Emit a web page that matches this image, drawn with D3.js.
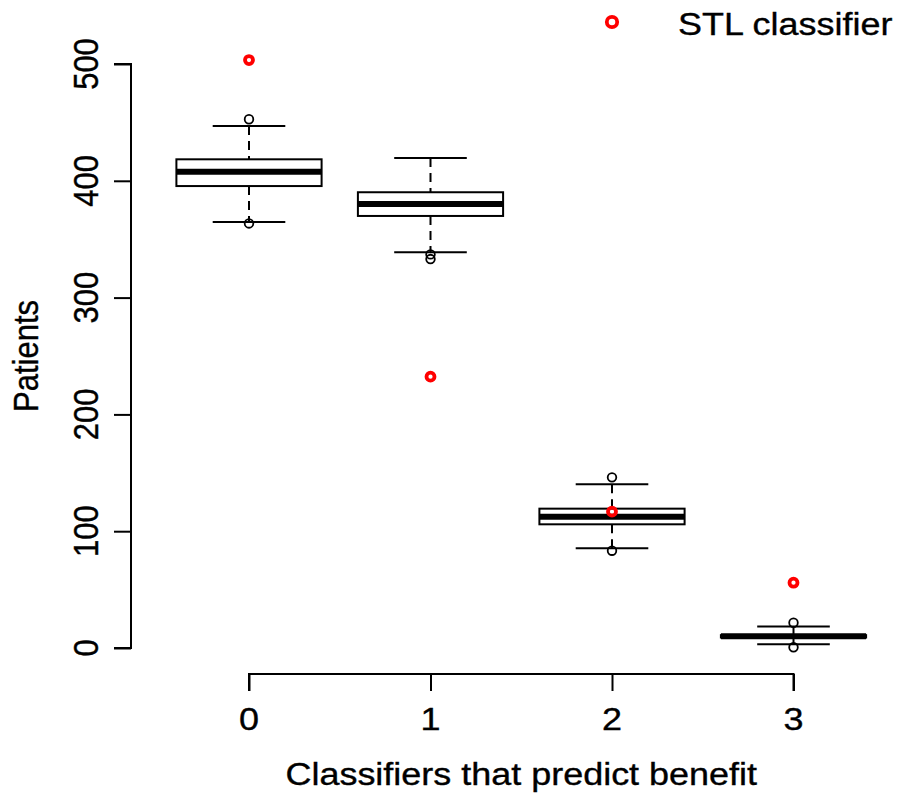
<!DOCTYPE html>
<html>
<head>
<meta charset="utf-8">
<script src="https://cdn.jsdelivr.net/npm/d3@7"></script>
<style>
  html, body { margin: 0; padding: 0; background: #fff; }
  svg { display: block; }
  text { font-family: "Liberation Sans", Arial, sans-serif; fill: #000; stroke: #000; stroke-width: 0.35px; }
</style>
</head>
<body>
<svg id="chart" width="898" height="796"></svg>
<script>
// Number of classifiers predicting benefit (groups)
const categories = ["0", "1", "2", "3"];
// Box-plot summary per group
const lowerWhisker = [364.7, 338.8, 85.4, 3.2];
const q1 = [395.5, 369.9, 105.9, 9.0];
const median = [407.8, 380.1, 112.4, 10.0];
const q3 = [418.4, 390.2, 119.3, 11.0];
const upperWhisker = [446.9, 419.5, 140.2, 18.5];
const outliers = [[452.7, 363.5], [337.0, 333.0], [146.1, 83.3], [21.6, 0.6]];
// STL classifier patient counts
const stlValues = [503.4, 232.3, 116.7, 55.9];
// Axis ticks
const yTicks = [0, 100, 200, 300, 400, 500];

const sx = 1.16; // horizontal text stretch
const fs = 31;
const svg = d3.select("#chart");

const x = d3.scaleLinear().domain([0, 3]).range([249, 793.5]);
const y = d3.scaleLinear().domain([0, 500]).range([648, 64]);
const step = x(1) - x(0);
const halfBox = step * 0.4;
const halfCap = halfBox * 0.5;

const groups = categories.map((c, i) => ({
  i, c, lo: lowerWhisker[i], q1: q1[i], med: median[i], q3: q3[i], hi: upperWhisker[i],
  out: outliers[i], stl: stlValues[i]
}));

const lw = 2;

// Y axis
const yAxis = d3.axisLeft(y).tickValues(yTicks).tickSize(17).tickFormat(() => "");
const gy = svg.append("g").attr("transform", "translate(131,0)").call(yAxis);
gy.select(".domain").attr("d", `M-17,${y(0)}H0V${y(500)}H-17`).attr("stroke-width", lw).attr("stroke", "#000");
gy.selectAll(".tick line").attr("stroke-width", lw).attr("stroke", "#000");
yTicks.forEach(v => {
  svg.append("text")
    .attr("transform", `translate(98,${y(v)}) scale(${sx},1) rotate(-90)`)
    .attr("text-anchor", "middle")
    .attr("font-size", fs)
    .text(v);
});

// X axis
const xAxis = d3.axisBottom(x).tickValues([0, 1, 2, 3]).tickSize(17).tickFormat(() => "");
const gx = svg.append("g").attr("transform", "translate(0,674)").call(xAxis);
gx.select(".domain").attr("d", `M${x(0)},17V0H${x(3)}V17`).attr("stroke-width", lw).attr("stroke", "#000");
gx.selectAll(".tick line").attr("stroke-width", lw).attr("stroke", "#000");
categories.forEach((c, i) => {
  svg.append("text")
    .attr("transform", `translate(${x(i)},730) scale(${sx},1)`)
    .attr("text-anchor", "middle")
    .attr("font-size", fs)
    .text(c);
});

// Axis titles
svg.append("text")
  .attr("transform", `translate(${(x(0) + x(3)) / 2},785) scale(${sx},1)`)
  .attr("text-anchor", "middle")
  .attr("font-size", fs)
  .text("Classifiers that predict benefit");
svg.append("text")
  .attr("transform", `translate(38,${(y(0) + y(500)) / 2}) scale(${sx},1) rotate(-90)`)
  .attr("text-anchor", "middle")
  .attr("font-size", fs)
  .text("Patients");

// Boxes
const g = svg.append("g").selectAll("g").data(groups).join("g");
// dashed whiskers
g.append("line")
  .attr("x1", d => x(d.i)).attr("x2", d => x(d.i))
  .attr("y1", d => y(d.hi)).attr("y2", d => y(d.q3))
  .attr("stroke", "#000").attr("stroke-width", lw).attr("stroke-dasharray", "9,6");
g.append("line")
  .attr("x1", d => x(d.i)).attr("x2", d => x(d.i))
  .attr("y1", d => y(d.q1)).attr("y2", d => y(d.lo))
  .attr("stroke", "#000").attr("stroke-width", lw).attr("stroke-dasharray", "9,6");
// whisker caps
["hi", "lo"].forEach(k => {
  g.append("line")
    .attr("x1", d => x(d.i) - halfCap).attr("x2", d => x(d.i) + halfCap)
    .attr("y1", d => y(d[k])).attr("y2", d => y(d[k]))
    .attr("stroke", "#000").attr("stroke-width", lw);
});
// box
g.append("rect")
  .attr("x", d => x(d.i) - halfBox).attr("width", halfBox * 2)
  .attr("y", d => y(d.q3)).attr("height", d => y(d.q1) - y(d.q3))
  .attr("fill", "#fff").attr("stroke", "#000").attr("stroke-width", lw);
// median
g.append("line")
  .attr("x1", d => x(d.i) - halfBox).attr("x2", d => x(d.i) + halfBox)
  .attr("y1", d => y(d.med)).attr("y2", d => y(d.med))
  .attr("stroke", "#000").attr("stroke-width", 6);
// outliers
g.selectAll("circle.out").data(d => d.out.map(v => ({ i: d.i, v }))).join("circle")
  .attr("class", "out")
  .attr("cx", d => x(d.i)).attr("cy", d => y(d.v)).attr("r", 4.3)
  .attr("fill", "none").attr("stroke", "#000").attr("stroke-width", 1.8);

// STL classifier points
svg.append("g").selectAll("circle").data(groups).join("circle")
  .attr("cx", d => x(d.i)).attr("cy", d => y(d.stl)).attr("r", 4)
  .attr("fill", "none").attr("stroke", "#ff0000").attr("stroke-width", 3.8);

// Legend
svg.append("circle").attr("cx", 612).attr("cy", 22).attr("r", 5.2)
  .attr("fill", "none").attr("stroke", "#ff0000").attr("stroke-width", 3.8);
svg.append("text")
  .attr("transform", `translate(678,35) scale(${sx},1)`)
  .attr("font-size", fs)
  .text("STL classifier");
</script>
</body>
</html>
